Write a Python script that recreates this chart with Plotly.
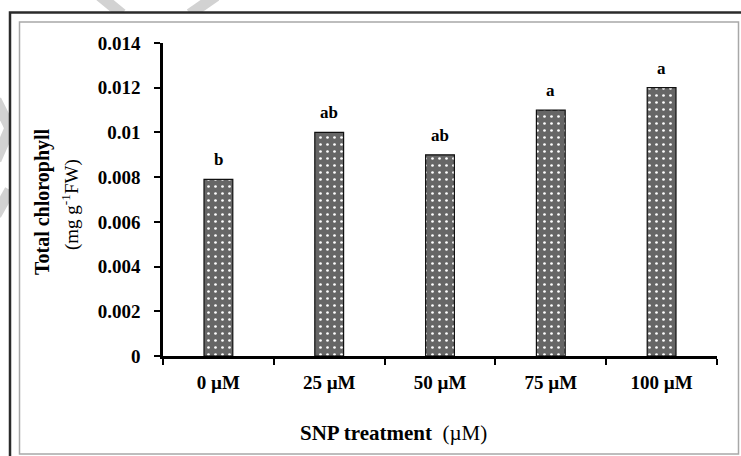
import plotly.graph_objects as go

categories = ["0 µM", "25 µM", "50 µM", "75 µM", "100 µM"]
chlorophyll = [0.0079, 0.0100, 0.0090, 0.0110, 0.0120]
letters = ["b", "ab", "ab", "a", "a"]
y_ticks = [0, 0.002, 0.004, 0.006, 0.008, 0.01, 0.012, 0.014]
y_tick_labels = ["0", "0.002", "0.004", "0.006", "0.008", "0.01", "0.012", "0.014"]

W, H = 741, 456
L, R, T, B = 163, 24, 43, 100
PW, PH = W - L - R, H - T - B

def px(x):
    return (x - L) / PW

def py(y):
    return (H - B - y) / PH

FONT = "Liberation Serif, Times New Roman, serif"

fig = go.Figure()
fig.add_trace(go.Bar(
    x=categories, y=chlorophyll, width=0.26,
    marker=dict(color="#707070",
                line=dict(color="#111111", width=1.2),
                pattern=dict(shape=".", bgcolor="#666666", fgcolor="#ffffff",
                             size=7, solidity=0.12, fillmode="replace")),
    showlegend=False, hoverinfo="x+y",
))

for c, v, t in zip(categories, chlorophyll, letters):
    fig.add_annotation(x=c, y=v, text="<b>%s</b>" % t, showarrow=False,
                       yanchor="bottom", yshift=8, font=dict(size=17, color="black", family=FONT))

shapes = []
# watermark fragments outside the frame
wm = dict(type="line", xref="paper", yref="paper", layer="below",
          line=dict(color="#d2d2d2", width=11))
for (x0, y0, x1, y1) in [(100, -4, 122, 14), (190, 14, 216, -4),
                          (-4, 100, 10, 128), (10, 128, -4, 160), (10, 190, -4, 215)]:
    shapes.append(dict(wm, x0=px(x0), y0=py(y0), x1=px(x1), y1=py(y1)))
# outer dark frame with white fill
shapes.append(dict(type="rect", xref="paper", yref="paper", layer="below",
                   x0=px(10), y0=py(12.5), x1=px(760), y1=py(470),
                   line=dict(color="#2b2b2b", width=2.5), fillcolor="white"))
# inner light frame
shapes.append(dict(type="rect", xref="paper", yref="paper", layer="below",
                   x0=px(19.5), y0=py(22), x1=px(738.5), y1=py(454),
                   line=dict(color="#a8a8a8", width=1.5), fillcolor="rgba(0,0,0,0)"))

fig.add_annotation(xref="paper", yref="paper", x=px(42), y=py(202),
                   text="<b>Total chlorophyll</b>", textangle=-90, showarrow=False,
                   xanchor="center", yanchor="middle",
                   font=dict(size=20, color="black", family=FONT))
fig.add_annotation(xref="paper", yref="paper", x=px(70), y=py(205),
                   text="(mg g<sup>-1</sup>FW)", textangle=-90, showarrow=False,
                   xanchor="center", yanchor="middle",
                   font=dict(size=19, color="black", family=FONT))
fig.add_annotation(xref="paper", yref="paper", x=px(393), y=py(433),
                   text="<b>SNP treatment</b>  (µM)", showarrow=False,
                   xanchor="center", yanchor="middle",
                   font=dict(size=21, color="black", family=FONT))

fig.update_layout(
    width=W, height=H, margin=dict(l=L, r=R, t=T, b=B),
    paper_bgcolor="white", plot_bgcolor="rgba(0,0,0,0)",
    shapes=shapes,
    xaxis=dict(type="category", showline=True, linecolor="black", linewidth=2.5,
               ticks="outside", tickson="boundaries", ticklen=6, tickwidth=2,
               tickcolor="black", showgrid=False, zeroline=False,
               ticklabelstandoff=7,
               tickvals=categories, ticktext=["<b>%s</b>" % c for c in categories],
               tickfont=dict(size=19, color="black", family=FONT)),
    yaxis=dict(range=[0, 0.014], tickvals=y_ticks, ticktext=["<b>%s</b>" % s for s in y_tick_labels],
               showline=True, linecolor="black", linewidth=2.5,
               ticks="outside", ticklen=6, tickwidth=2, tickcolor="black",
               showgrid=False, zeroline=False, ticklabelstandoff=10,
               tickfont=dict(size=19, color="black", family=FONT)),
)

fig.write_html("out.html")
